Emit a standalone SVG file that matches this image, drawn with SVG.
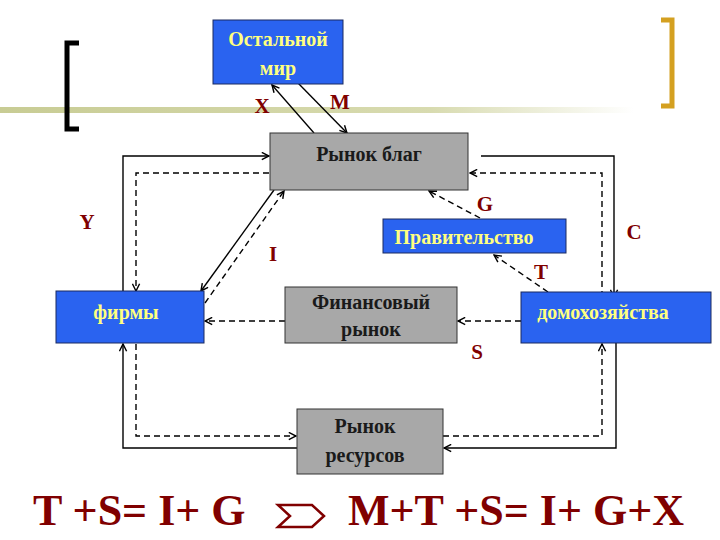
<svg xmlns="http://www.w3.org/2000/svg" width="720" height="540" viewBox="0 0 720 540">
<defs>
<linearGradient id="band" x1="0" x2="1" y1="0" y2="0">
<stop offset="0" stop-color="#c8cc94"/><stop offset="0.6" stop-color="#d8dbb0"/><stop offset="0.88" stop-color="#ffffff"/>
</linearGradient>
<marker id="ar" viewBox="0 0 10 10" refX="9" refY="5" markerWidth="9" markerHeight="9" markerUnits="userSpaceOnUse" orient="auto">
<path d="M1,1 L9,5 L1,9" fill="none" stroke="#000" stroke-width="1.6"/>
</marker>
</defs>
<style>
.blue{fill:#2a63f0;stroke:#1a2a60;stroke-width:1}
.gray{fill:#a8a8a8;stroke:#333;stroke-width:1}
.yt{font-family:"Liberation Serif",serif;font-weight:bold;font-size:20px;fill:#ffff80;text-anchor:middle}
.bt{font-family:"Liberation Serif",serif;font-weight:bold;font-size:20px;fill:#1a1a1a;text-anchor:middle}
.lb{font-family:"Liberation Serif",serif;font-weight:bold;font-size:21px;fill:#800000;text-anchor:middle}
.s{fill:none;stroke:#000;stroke-width:1.4;marker-end:url(#ar)}
.d{fill:none;stroke:#000;stroke-width:1.4;stroke-dasharray:6,4;marker-end:url(#ar)}
.eq{font-family:"Liberation Serif",serif;font-weight:bold;font-size:44px;fill:#800000}
</style>
<rect x="0" y="107" width="720" height="6" fill="url(#band)"/>
<path d="M79,43 H67 V129 H79" fill="none" stroke="#000" stroke-width="5"/>
<path d="M661,20 H672 V106 H661" fill="none" stroke="#d4a020" stroke-width="5"/>

<g id="connectors">
<path class="s" d="M314,133 L272,85"/>
<path class="s" d="M298,83 L347,133"/>
<path class="s" d="M123,291 V156 H269"/>
<path class="d" d="M269,173 H136 V291"/>
<path class="s" d="M481,156 H614 V297"/>
<path class="d" d="M602,297 V173 H470"/>
<path class="s" d="M274,190 L201,291"/>
<path class="d" d="M205,303 L284,191"/>
<path class="d" d="M480,218 L429,191"/>
<path class="d" d="M548,292 L494,255"/>
<path class="d" d="M521,321 H458"/>
<path class="d" d="M285,321 H205"/>
<path class="s" d="M616,343 V448 H444"/>
<path class="s" d="M297,448 H123 V344"/>
<path class="d" d="M136,344 V436 H296"/>
<path class="d" d="M443,436 H602 V344"/>
</g>

<g id="world"><rect class="blue" x="213" y="20" width="130" height="64"/>
<text class="yt" x="278" y="46">Остальной</text><text class="yt" x="278" y="75">мир</text></g>
<g id="goods"><rect class="gray" x="270" y="133" width="198" height="57"/>
<text class="bt" x="369" y="161">Рынок благ</text></g>
<g id="gov"><rect class="blue" x="383" y="219" width="183" height="34"/>
<text class="yt" x="464" y="244">Правительство</text></g>
<g id="firms"><rect class="blue" x="56" y="291" width="148" height="52"/>
<text class="yt" x="126" y="319">фирмы</text></g>
<g id="fin"><rect class="gray" x="285" y="287" width="172" height="56"/>
<text class="bt" x="371" y="309">Финансовый</text><text class="bt" x="371" y="336">рынок</text></g>
<g id="hh"><rect class="blue" x="521" y="292" width="190" height="51"/>
<text class="yt" x="603" y="319">домохозяйства</text></g>
<g id="res"><rect class="gray" x="297" y="409" width="146" height="65"/>
<text class="bt" x="365" y="433">Рынок</text><text class="bt" x="365" y="462">ресурсов</text></g>

<text class="lb" x="262" y="113">X</text>
<text class="lb" x="340" y="109">M</text>
<text class="lb" x="87" y="229">Y</text>
<text class="lb" x="273" y="261">I</text>
<text class="lb" x="485" y="211">G</text>
<text class="lb" x="634" y="239">C</text>
<text class="lb" x="541" y="279">T</text>
<text class="lb" x="477" y="359">S</text>

<text class="eq" x="33" y="525">T +S= I+ G</text>
<path d="M278,505 H312 L324,516 L312,527 H278 L290,516 Z" fill="none" stroke="#800000" stroke-width="2.5"/>
<text class="eq" x="348" y="525">M+T +S= I+ G+X</text>
</svg>
